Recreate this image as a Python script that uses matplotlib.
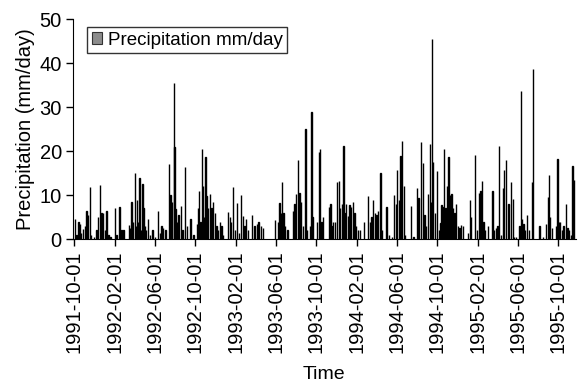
import matplotlib
matplotlib.use("Agg")
import matplotlib.pyplot as plt
import matplotlib.dates as mdates
from matplotlib.patches import Patch
import pandas as pd

plt.rcParams['font.family'] = ['Liberation Sans', 'DejaVu Sans']

# Daily rain events: days after 1991-10-01 and mm/day
start = pd.Timestamp('1991-10-01')
rain_day = [
    3, 8, 14, 18, 22, 28, 33, 38, 43, 48, 52, 60, 68, 73, 78, 83, 88, 93, 98, 104,
    110, 123, 128, 137, 143, 150, 166, 170, 174, 178, 184, 188, 190, 194, 198, 203,
    207, 210, 214, 218, 224, 230, 237, 245, 254, 260, 264, 269, 276, 287, 291, 295,
    301, 303, 306, 311, 316, 323, 328, 336, 342, 352, 361, 371, 375, 378, 382, 386,
    389, 393, 397, 400, 404, 410, 415, 420, 425, 430, 434, 440, 445, 450, 465, 470,
    475, 480, 487, 493, 499, 505, 510, 515, 520, 525, 538, 545, 552, 557, 565, 570,
    607, 615, 620, 625, 628, 632, 638, 645, 661, 666, 671, 676, 681, 686, 691, 699,
    703, 712, 717, 720, 734, 739, 743, 747, 752, 770, 774, 777, 782, 787, 794, 800,
    804, 809, 814, 817, 822, 827, 832, 837, 842, 847, 852, 857, 864, 876, 888, 893,
    898, 903, 908, 913, 918, 925, 930, 943, 950, 960, 967, 973, 976, 981, 986, 991,
    996, 1000, 1018, 1025, 1035, 1040, 1048, 1053, 1058, 1063, 1068, 1074, 1077, 1081,
    1084, 1089, 1095, 1101, 1106, 1109, 1112, 1116, 1121, 1126, 1131, 1136, 1140,
    1144, 1149, 1154, 1159, 1164, 1169, 1174, 1189, 1195, 1199, 1210, 1216, 1222,
    1227, 1231, 1236, 1241, 1250, 1263, 1268, 1273, 1278, 1283, 1288, 1295, 1298,
    1305, 1312, 1320, 1325, 1328, 1335, 1345, 1350, 1353, 1357, 1362, 1368, 1373,
    1382, 1385, 1405, 1415, 1425, 1430, 1433, 1437, 1442, 1455, 1460, 1465, 1468,
    1473, 1478, 1485, 1490, 1495, 1500, 1505, 1509,
]
rain_mm = [
    4.5, 1, 3.8, 3.5, 1.5, 2.4, 3, 6.4, 5.4, 11.8, 1, 0.5, 2, 5, 12.2, 6, 6, 2, 6.5, 1,
    0.5, 7, 1, 7.2, 2, 2, 3.2, 2.5, 8.4, 4, 15, 3, 9, 4, 14, 2,
    12.5, 7, 3, 2, 4.5, 1, 2, 0.5, 6.4, 1.5, 3, 2.5, 2, 17, 10, 8.5,
    35.5, 21, 6.8, 4, 5.5, 7.5, 2, 16.4, 3, 4.5, 1, 3.5, 7, 11, 4, 20.5,
    12, 5, 18.6, 9.8, 7, 10.3, 7, 8.4, 6, 3, 2, 4, 3, 1, 6.2, 5,
    4, 11.8, 2, 8.3, 1.5, 10, 5.2, 3, 4.5, 2, 5.5, 3, 3.5, 3.8, 3, 2.5,
    4.3, 4, 8.2, 6, 13, 6, 3, 2, 6.5, 8, 10.3, 18, 10.5, 8.4, 3, 25,
    2, 3, 29, 5, 4, 19.8, 20.5, 4, 5, 7.2, 8, 3, 4, 4, 13, 13.2,
    7, 8, 21.1, 6, 8, 5.3, 7.8, 7.2, 8.5, 6, 3, 2, 2, 3.8, 9.8, 4,
    5, 9, 6, 5.5, 6.4, 15, 2, 7.2, 1, 0.5, 10, 8, 15.8, 8.8, 18.9, 22.2,
    12, 1, 7.6, 0.5, 11.7, 9.4, 22, 17.2, 5.5, 3, 10.3, 21.6, 8.5, 45.4,
    17.5, 6, 15.6, 2, 3.7, 7.7, 7.4, 20.5, 7, 12, 18.6, 10, 10.3,
    7, 6, 8, 3, 2.5, 3.3, 3, 1.5, 9, 5, 19.2, 2, 10.5,
    11, 13.3, 4, 2, 3, 10.9, 2, 2.5, 3, 21.1, 1, 11.7, 15.7,
    18, 8, 13, 9.2, 0.5, 0.5, 3, 33.7, 4.5, 3.5, 2, 5.5, 2,
    13, 38.6, 3, 0.5, 3.5, 9.5, 14.5, 5, 2.5, 3, 18.2, 4, 3.8,
    2, 3, 8, 2.5, 2, 1, 16.6, 13.5,
]
rain_date = start + pd.to_timedelta(rain_day, unit='D')

fig = plt.figure(figsize=(5.81, 3.87), dpi=100)
ax = fig.add_axes([0.1256, 0.382, 0.865, 0.5685])

ax.bar(rain_date, rain_mm, width=1.0, color='black', edgecolor='black',
       linewidth=1.0)

ax.set_xlim(start - pd.Timedelta(days=3), start + pd.Timedelta(days=1514))
ax.set_ylim(0, 50)
ax.set_yticks(range(0, 51, 10))

ax.xaxis.set_major_locator(mdates.MonthLocator(bymonth=[2, 6, 10]))
ax.xaxis.set_major_formatter(mdates.DateFormatter('%Y-%m-%d'))
for lbl in ax.get_xticklabels():
    lbl.set_rotation(90)

ax.spines['top'].set_visible(False)
ax.spines['right'].set_visible(False)
ax.tick_params(axis='both', direction='out', length=5, width=1,
               labelsize=14.5, colors='black', pad=3)
ax.set_xlabel('Time', fontsize=14, labelpad=9)
ax.set_ylabel('Precipitation (mm/day)', fontsize=14.5, labelpad=3)

handle = Patch(facecolor='#8c8c8c', edgecolor='#333333', linewidth=0.8)
leg = ax.legend([handle], ['Precipitation mm/day'], loc='upper left',
                bbox_to_anchor=(0.028, 0.964), fontsize=13.5, frameon=True,
                fancybox=False, borderpad=0.25, handlelength=0.55,
                handleheight=0.55, handletextpad=0.3, borderaxespad=0)
leg.get_frame().set_edgecolor('black')
leg.get_frame().set_linewidth(1.0)

fig.savefig('out.png', dpi=100)
